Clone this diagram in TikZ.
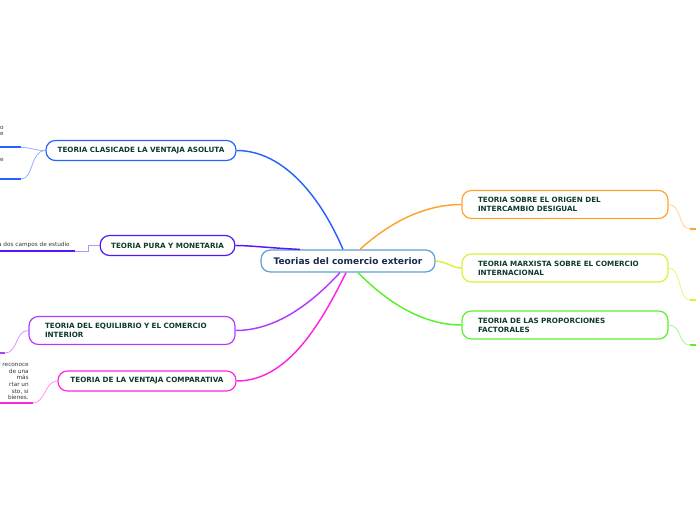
\documentclass[tikz,border=0pt]{standalone}
\usepackage{fontspec}
\setmainfont{DejaVu Sans}
\usepackage{tikz}
\usetikzlibrary{calc}
\definecolor{tcCore}{HTML}{5B9FD6}
\definecolor{tcCoreText}{HTML}{172A4F}
\definecolor{tcText}{HTML}{0F3B2C}
\definecolor{tcBlue}{HTML}{2962FF}
\definecolor{tcIndigo}{HTML}{5218F5}
\definecolor{tcViolet}{HTML}{B23CFD}
\definecolor{tcMagenta}{HTML}{FF26E0}
\definecolor{tcOrange}{HTML}{FFA22E}
\definecolor{tcYellow}{HTML}{DDF03A}
\definecolor{tcGreen}{HTML}{5BF02A}

\begin{document}
\begin{tikzpicture}[
  x=0.75pt, y=-0.75pt,
  font=\bfseries\fontsize{5.4}{6.8}\selectfont,
  box/.style={draw, fill=white, rounded corners=7pt, line width=0.9pt, text=tcText,
              minimum height=15pt, inner xsep=0pt, inner ysep=2pt, align=center},
  two/.style={box, align=left, text width=130.5pt, inner xsep=12pt, minimum height=21pt},
  link/.style={line width=1.1pt},
  twig/.style={line width=0.6pt},
  rule/.style={line width=1.5pt},
  note/.style={font=\fontsize{4.3}{5}\selectfont, text=black!80, inner sep=0pt},
]
\useasboundingbox (0,0) rectangle (696,520);
\clip (0,0) rectangle (696,520);

% central topic
\node[box, draw=tcCore, minimum width=130.5pt, minimum height=16.5pt, text=tcCoreText,
      font=\bfseries\fontsize{6.8}{8}\selectfont] (core) at (348,261) {Teorias del comercio exterior};

% left branches
\node[box, draw=tcBlue, minimum width=142.5pt] (clasica) at (141,150.5) {TEORIA CLASICADE LA VENTAJA ASOLUTA};
\node[box, draw=tcIndigo, minimum width=101pt] (pura) at (167.5,245.5) {TEORIA PURA Y MONETARIA};
\node[two, draw=tcViolet] (equil) at (132,330.5) {TEORIA DEL EQUILIBRIO Y EL COMERCIO\\INTERIOR};
\node[box, draw=tcMagenta, minimum width=133.5pt] (compar) at (147,381) {TEORIA DE LA VENTAJA COMPARATIVA};

% right branches
\node[two, draw=tcOrange] (origen) at (565,204.5) {TEORIA SOBRE EL ORIGEN DEL\\INTERCAMBIO DESIGUAL};
\node[two, draw=tcYellow] (marx) at (565,268) {TEORIA MARXISTA SOBRE EL COMERCIO\\INTERNACIONAL};
\node[two, draw=tcGreen] (factor) at (565,325) {TEORIA DE LAS PROPORCIONES\\FACTORALES};

% main connectors
\draw[link, tcBlue] ($(core.north)+(-5,0)$) .. controls (322,200) and (285,150.5) .. (clasica.east);
\draw[link, tcIndigo] ($(core.north)+(-48,0)$) .. controls (270,248) and (250,245.5) .. (pura.east);
\draw[link, tcViolet] ($(core.south)+(-8,0)$) .. controls (310,305) and (275,330.5) .. (equil.east);
\draw[link, tcMagenta] ($(core.south)+(-2,0)$) .. controls (318,330) and (285,381) .. (compar.east);
\draw[link, tcOrange] ($(core.north)+(12,0)$) .. controls (390,222) and (425,204.5) .. (origen.west);
\draw[link, tcYellow] (core.east) .. controls (448,262) and (452,268) .. (marx.west);
\draw[link, tcGreen] ($(core.south)+(10,0)$) .. controls (390,305) and (425,325) .. (factor.west);

% sub topics (cut by the page edge)
\coordinate (c1) at (21,147.5);
\coordinate (c1e) at (-2,147.5);
\coordinate (c2) at (21,179);
\coordinate (c2e) at (-2,179);
\node[note, anchor=east, align=right] (n1) at (4,131) {o\\e};
\node[note, anchor=east] (n2) at (4,160) {e};
\draw[twig, tcBlue!50] (clasica.west) .. controls (33,150.5) and (33,147.5) .. (c1);
\draw[twig, tcBlue!50] (clasica.west) .. controls (30,150.5) and (34,179) .. (c2);
\draw[rule, tcBlue] (c1) -- (c1e);
\draw[rule, tcBlue] (c2) -- (c2e);

\coordinate (p1) at (75,251.5);
\coordinate (p1e) at (-2,251.5);
\node[note, anchor=south east] (n3) at (70,248) {a dos campos de estudio};
\draw[twig, tcIndigo!45] (pura.west) -- (88,245.5) -- (88,251.5) -- (p1);
\draw[rule, tcIndigo] (p1) -- (p1e);

\coordinate (q1) at (5,353);
\coordinate (q1e) at (-2,353);
\draw[twig, tcViolet!55] (equil.west) .. controls (15,330.5) and (18,353) .. (q1);
\draw[rule, tcViolet] (q1) -- (q1e);

\coordinate (m1) at (33,403);
\coordinate (m1e) at (-2,403);
\node[note, anchor=north east, align=right] (n4) at (29,362) {l reconoce\\de una\\más\\rtar un\\sto, si\\bienes.};
\draw[twig, tcMagenta!50] (compar.west) .. controls (45,381) and (45,403) .. (m1);
\draw[rule, tcMagenta] (m1) -- (m1e);

\coordinate (r1) at (690,229);
\coordinate (r2) at (690,300);
\coordinate (r3) at (690,345);
\draw[twig, tcOrange!50] (origen.east) .. controls (682,204.5) and (678,229) .. (r1);
\draw[twig, tcYellow!70] (marx.east) .. controls (682,268) and (678,300) .. (r2);
\draw[twig, tcGreen!55] (factor.east) .. controls (682,325) and (678,345) .. (r3);
\draw[rule, tcOrange] (r1) -- (698,229);
\draw[rule, tcYellow] (r2) -- (698,300);
\draw[rule, tcGreen] (r3) -- (698,345);
\end{tikzpicture}
\end{document}
